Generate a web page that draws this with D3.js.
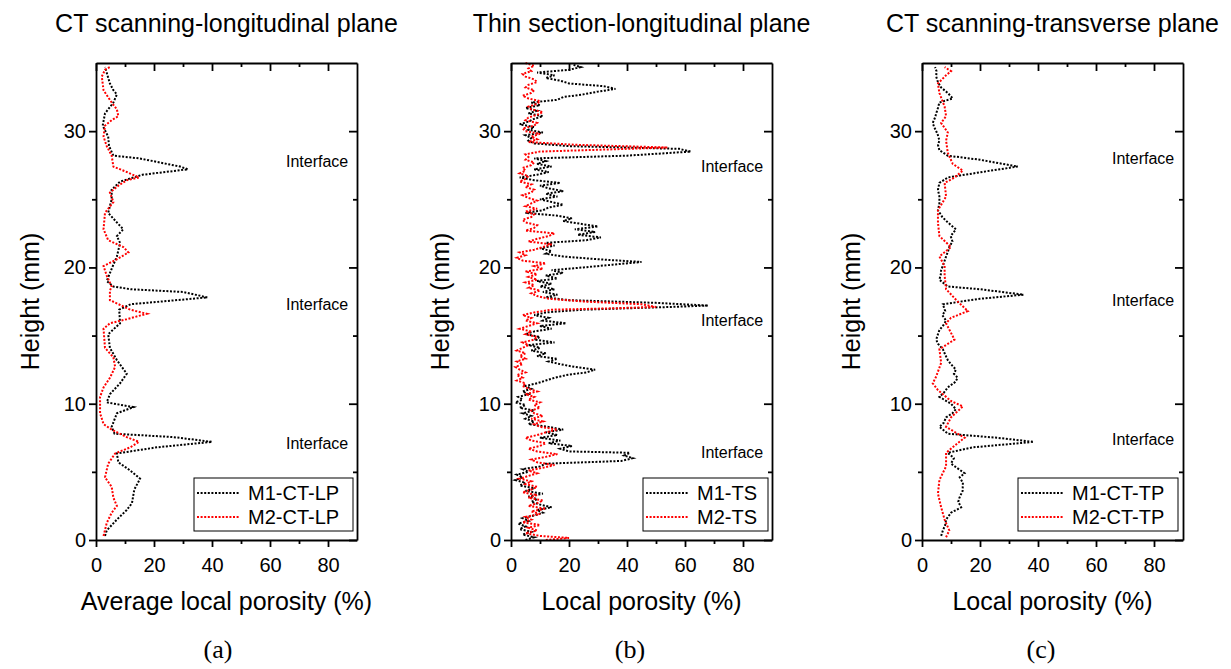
<!DOCTYPE html>
<html>
<head>
<meta charset="utf-8">
<script src="https://cdn.jsdelivr.net/npm/d3@7"></script>
<style>
  html, body { margin: 0; padding: 0; background: #fff; }
  svg { display: block; font-family: Arial, "Liberation Sans", sans-serif; }
</style>
</head>
<body>
<svg id="chart" width="1231" height="669"></svg>
<script>
// ---------------- DATA ----------------
const panelTitles = ["CT scanning-longitudinal plane", "Thin section-longitudinal plane", "CT scanning-transverse plane"];
const xTitles = ["Average local porosity (%)", "Local porosity (%)", "Local porosity (%)"];
const panelLetters = ["(a)", "(b)", "(c)"];
const yTitle = "Height (mm)";
const xTicks = [0, 20, 40, 60, 80];
const xMinor = [10, 30, 50, 70];
const yTicks = [0, 10, 20, 30];
const yMinor = [5, 15, 25];
const legendNames = [["M1-CT-LP", "M2-CT-LP"], ["M1-TS", "M2-TS"], ["M1-CT-TP", "M2-CT-TP"]];
const interfaceLabel = "Interface";
// heights (mm) of the "Interface" annotations per panel
const interfaceHeights = [[27.8, 17.3, 7.1], [27.4, 16.1, 6.4], [28.0, 17.6, 7.4]];

// [height (mm), porosity (%)]
const a_M1 = [[0.3,3.1],[0.7,3.7],[1.5,7.2],[2.2,10.6],[2.7,12.4],[3.7,13.2],[4.5,15.2],[5.1,11.8],[5.7,7.7],[6.35,7.2],[6.8,21],[7.2,40],[7.55,26.7],[7.8,6.4],[8.3,5.4],[9.3,7.2],[9.75,12.9],[10.1,3.7],[10.7,4.8],[11.5,8.3],[12.2,10.6],[13.2,7.2],[14.1,4.8],[15.1,4.2],[15.9,8.3],[16.9,8],[17.3,12],[17.8,38.4],[18.2,30],[18.4,12],[18.6,6],[19.0,3.7],[19.9,5.4],[20.8,7.2],[21.8,8.3],[22.3,7.2],[22.8,9.4],[23.3,7.2],[24.0,4.2],[25.0,5.4],[25.7,5.4],[26.3,8.3],[26.8,16],[27.2,31.7],[27.4,29],[28.0,15],[28.2,6],[28.9,4.5],[29.6,4.2],[30.4,2.3],[31.3,3.1],[32.1,6],[32.7,7.2],[33.0,6],[33.5,4.8],[34.7,3.1]];
const a_M2 = [[0.3,2.6],[1.25,3.7],[2.0,5.4],[2.5,7.2],[3.1,6],[3.9,5.4],[4.6,3.1],[5.6,4.2],[6.35,6.6],[6.8,11.8],[7.2,14.8],[7.55,10.6],[8.1,5.4],[8.5,2.6],[9.3,1.4],[10.5,1.4],[11.2,2.6],[11.9,4.8],[12.7,6.6],[13.4,6],[14.1,3.1],[15.5,2.6],[15.9,4.8],[16.2,10.6],[16.6,17.5],[16.9,11.8],[17.6,4.8],[18.3,4.8],[18.6,5.4],[19.4,3.7],[20.1,2.6],[20.6,7.2],[21.1,11.2],[21.5,9.4],[22.0,4.2],[22.8,2.6],[24.0,3.1],[24.8,6],[25.5,4.8],[26.0,7.7],[26.4,10.6],[26.6,14.8],[27.0,10.6],[27.4,6],[28.2,5.4],[28.9,3.7],[29.6,2.6],[30.4,3.1],[30.8,5.4],[31.1,7.7],[31.6,7.2],[32.1,5.4],[33.0,2.6],[34.0,2.0],[34.5,3.1],[34.7,4.8]];

const b_M1 = [[0.0,5],[0.2,8],[0.4,4],[0.6,7],[0.8,3],[1.0,5],[1.2,2.5],[1.4,6],[1.6,4],[1.8,8],[2.0,11],[2.2,9],[2.4,14],[2.6,10],[2.8,7],[3.0,9],[3.2,6],[3.4,11],[3.6,5],[3.8,8],[4.0,3],[4.2,5],[4.4,1.5],[4.6,4],[4.8,2],[5.0,6],[5.2,4],[5.4,10],[5.6,12],[5.8,38],[6.0,42],[6.2,39],[6.4,41],[6.5,20],[6.7,17],[6.9,21],[7.1,13],[7.3,17],[7.5,10],[7.7,16],[7.9,12],[8.1,18],[8.3,13],[8.5,6],[8.7,8],[8.9,5],[9.1,7],[9.3,4],[9.5,8],[9.7,3],[9.9,5],[10.1,1.5],[10.3,4],[10.5,2.5],[10.7,6],[10.9,4],[11.1,7],[11.3,5],[11.5,9],[11.7,12],[11.9,15],[12.1,19],[12.3,26],[12.5,29],[12.7,22],[12.9,17],[13.1,13],[13.3,16],[13.5,9],[13.7,12],[13.9,7],[14.1,10],[14.3,6],[14.5,15],[14.7,8],[14.9,10],[15.1,5],[15.3,8],[15.5,14],[15.7,10],[15.9,19],[16.1,11],[16.3,13],[16.5,8],[16.7,12],[16.9,25],[17.1,55],[17.2,68],[17.4,50],[17.6,20],[17.8,12],[18.0,16],[18.2,11],[18.4,15],[18.6,10],[18.8,14],[19.0,9],[19.2,16],[19.4,12],[19.6,18],[19.8,14],[20.0,25],[20.2,35],[20.4,45],[20.6,30],[20.8,18],[21.0,12],[21.2,14],[21.4,10],[21.6,15],[21.8,12],[22.0,26],[22.2,31],[22.4,23],[22.6,29],[22.8,22],[23.0,30],[23.2,24],[23.4,18],[23.6,21],[23.8,16],[24.0,5],[24.2,11],[24.4,13],[24.6,18],[24.8,14],[25.0,10],[25.2,16],[25.4,12],[25.6,18],[25.8,13],[26.0,10],[26.2,17],[26.4,8],[26.6,3],[26.8,9],[27.0,13],[27.2,8],[27.4,14],[27.6,9],[27.8,12],[28.0,8],[28.2,40],[28.5,62],[28.7,58],[28.9,20],[29.1,8],[29.3,6],[29.5,7],[29.7,5],[29.9,11],[30.1,6],[30.3,8],[30.5,3],[30.7,6],[30.9,8],[31.1,11],[31.3,6],[31.5,9],[31.7,5],[31.9,10],[32.1,7],[32.3,16],[32.5,18],[32.7,25],[32.9,30],[33.1,36],[33.3,32],[33.5,20],[33.7,17],[33.9,12],[34.1,15],[34.3,9],[34.5,20],[34.7,24],[34.9,21]];
const b_M2 = [[0.0,12],[0.15,20],[0.3,10],[0.5,5],[0.7,9],[0.9,6],[1.1,10],[1.3,4],[1.5,7],[1.7,5],[1.9,10],[2.1,7],[2.3,12],[2.5,6],[2.7,9],[2.9,11],[3.1,6],[3.3,9],[3.5,4],[3.7,7],[3.9,9],[4.1,5],[4.3,7],[4.5,3],[4.7,6],[4.9,9],[5.1,6],[5.3,11],[5.5,15],[5.7,9],[5.9,7],[6.1,12],[6.3,16],[6.5,9],[6.7,6],[6.9,10],[7.1,12],[7.3,7],[7.5,5],[7.7,9],[7.9,12],[8.1,16],[8.3,10],[8.5,8],[8.7,11],[8.9,7],[9.1,11],[9.3,8],[9.5,7],[9.7,10],[9.9,8],[10.1,10],[10.3,6],[10.5,8],[10.7,5],[10.9,9],[11.1,6],[11.3,4],[11.5,5],[11.7,2],[11.9,4],[12.1,2],[12.3,5],[12.5,3],[12.7,1.5],[12.9,4],[13.1,2],[13.3,5],[13.5,3],[13.7,5],[13.9,2],[14.1,4],[14.3,6],[14.5,4],[14.7,8],[14.9,9],[15.1,5],[15.3,7],[15.5,3],[15.7,6],[15.9,9],[16.1,5],[16.3,7],[16.5,4],[16.7,8],[16.9,14],[17.0,35],[17.1,50],[17.3,45],[17.5,25],[17.7,13],[17.9,9],[18.1,7],[18.3,10],[18.5,6],[18.7,8],[18.9,5],[19.1,9],[19.3,6],[19.5,9],[19.7,5],[19.9,11],[20.1,8],[20.3,12],[20.5,4],[20.7,2],[20.9,5],[21.1,3],[21.3,8],[21.5,11],[21.7,14],[21.9,6],[22.1,9],[22.3,13],[22.5,15],[22.7,5],[22.9,8],[23.1,9],[23.3,5],[23.5,4],[23.7,7],[23.9,8],[24.1,5],[24.3,9],[24.5,5],[24.7,7],[24.9,9],[25.1,6],[25.3,4],[25.5,7],[25.7,8],[25.9,5],[26.1,7],[26.3,3],[26.5,5],[26.7,6],[26.9,3],[27.1,5],[27.3,4],[27.5,7],[27.7,8],[27.9,5],[28.1,6],[28.3,5],[28.5,10],[28.7,40],[28.8,54],[29.0,22],[29.2,6],[29.4,9],[29.6,7],[29.8,10],[30.0,5],[30.2,4],[30.4,8],[30.6,9],[30.8,5],[31.0,6],[31.2,9],[31.4,11],[31.6,7],[31.8,6],[32.0,9],[32.2,10],[32.4,6],[32.6,4],[32.8,7],[33.0,8],[33.2,5],[33.4,6],[33.6,9],[33.8,8],[34.0,5],[34.2,4],[34.4,7],[34.6,6],[34.8,8],[35.0,5]];

const c_M1 = [[0.3,6.6],[0.7,7.2],[1.1,8],[1.5,8.3],[2.0,10],[2.4,13.5],[2.8,12.5],[3.1,12.9],[3.6,14],[4.2,14.1],[4.6,13],[4.9,14.7],[5.3,12],[5.6,10],[6.0,11],[6.4,8.9],[6.8,17.6],[7.2,38.5],[7.5,26],[7.8,8.9],[8.3,6],[8.6,7.5],[9.0,8.3],[9.3,10.5],[9.6,11.7],[10.0,10],[10.5,6],[10.8,7.5],[11.2,8.9],[11.6,11.5],[11.9,12.3],[12.2,11],[12.5,11.7],[12.9,10],[13.2,8.9],[13.6,8],[14.0,7.2],[14.4,5.5],[14.7,4.9],[15.1,5.5],[15.4,6],[15.8,7.5],[16.1,8.3],[16.5,7],[16.8,8],[17.1,7.5],[17.3,7.2],[17.7,20],[18.0,35],[18.4,20],[18.6,8.9],[19.1,6],[19.5,6.5],[19.8,6.6],[20.3,7.5],[20.8,8.3],[21.2,9],[21.5,9.4],[21.9,10.5],[22.3,9.9],[22.8,11.7],[23.3,8.9],[23.7,7],[24.2,5.5],[24.7,6],[25.2,6],[25.7,5.5],[26.2,6],[26.6,8.9],[27.1,23.6],[27.4,33],[27.9,20],[28.2,8.9],[28.6,6],[29.0,5.5],[29.3,6],[29.7,5.5],[30.0,4.9],[30.3,4.2],[30.6,3.7],[31.0,4.5],[31.3,4.9],[31.7,5.5],[32.1,6],[32.4,10.6],[32.8,8.9],[33.2,6.6],[33.6,5.5],[34.0,4.9],[34.4,5],[34.7,4.5]];
const c_M2 = [[0.2,8.3],[0.7,9.4],[1.5,7.8],[2.4,6.6],[3.4,5.5],[4.4,6],[5.4,8.3],[6.4,8.3],[7.1,12.3],[7.5,14.7],[8.3,8.3],[9.0,10],[9.8,14.1],[10.2,10],[11.0,5.5],[11.5,3.7],[12.0,4.9],[13.0,6.6],[14.0,6],[14.7,11.2],[15.2,10],[15.9,8.3],[16.3,10],[16.8,15.8],[17.5,12.3],[18.4,8.3],[19.4,7.8],[20.1,7.8],[20.8,6],[21.5,10],[22.3,6],[23.3,5.5],[24.2,5.5],[25.2,8.3],[26.2,7.8],[26.6,11.2],[27.1,14.1],[27.6,10.6],[28.4,8.9],[29.3,8.3],[29.9,8.9],[30.6,6.6],[31.1,8.3],[31.8,7.8],[32.8,6],[33.5,5.5],[34.1,8.3],[34.4,10],[34.7,7.8]];

const seriesByPanel = [[a_M1, a_M2], [b_M1, b_M2], [c_M1, c_M2]];
const seriesColors = ["#000000", "#ff0000"];

// ---------------- LAYOUT ----------------
const svg = d3.select("#chart");
const plotLefts = [96, 511, 922];
const plotW = 261;
const plotTop = 63, plotBottom = 540;
const yTitleX = [39, 449, 860];
const letterX = [218, 630, 1041];
const legendLefts = [194, 643, 1018];
const legendWidths = [159, 125, 160];

const y = d3.scaleLinear().domain([0, 35]).range([plotBottom, plotTop]);

panelTitles.forEach((title, i) => {
  const L = plotLefts[i], R = L + plotW;
  const x = d3.scaleLinear().domain([0, 90]).range([L, R]);
  const g = svg.append("g");

  const line = d3.line().x(d => x(d[1])).y(d => y(d[0]));
  seriesByPanel[i].forEach((s, k) => {
    g.append("path").datum(s).attr("d", line)
      .attr("fill", "none").attr("stroke", seriesColors[k])
      .attr("stroke-width", 2).attr("stroke-dasharray", "2,1.6");
  });

  const styleAxis = (sel) => {
    sel.selectAll("path.domain").attr("stroke", "#000").attr("stroke-width", 1.8);
    sel.selectAll(".tick line").attr("stroke", "#000").attr("stroke-width", 1.8);
    sel.selectAll(".tick text").attr("font-size", 20).attr("fill", "#000")
      .attr("font-family", "Arial, 'Liberation Sans', sans-serif");
  };

  g.append("g").attr("transform", `translate(0,${plotBottom})`)
    .call(d3.axisBottom(x).tickValues(xTicks).tickSize(7).tickPadding(11).tickSizeOuter(0))
    .call(styleAxis);
  g.append("g").attr("transform", `translate(0,${plotBottom})`)
    .call(d3.axisBottom(x).tickValues(xMinor).tickSize(4).tickFormat("").tickSizeOuter(0))
    .call(styleAxis).call(s => s.select("path.domain").remove());
  g.append("g").attr("transform", `translate(0,${plotTop})`)
    .call(d3.axisBottom(x).tickValues(xTicks).tickSize(8).tickFormat("").tickSizeOuter(0))
    .call(styleAxis);
  g.append("g").attr("transform", `translate(0,${plotTop})`)
    .call(d3.axisBottom(x).tickValues(xMinor).tickSize(4).tickFormat("").tickSizeOuter(0))
    .call(styleAxis).call(s => s.select("path.domain").remove());
  g.append("g").attr("transform", `translate(${L},0)`)
    .call(d3.axisLeft(y).tickValues(yTicks).tickSize(7).tickPadding(3).tickSizeOuter(0))
    .call(styleAxis);
  g.append("g").attr("transform", `translate(${L},0)`)
    .call(d3.axisLeft(y).tickValues(yMinor).tickSize(4).tickFormat("").tickSizeOuter(0))
    .call(styleAxis).call(s => s.select("path.domain").remove());
  g.append("g").attr("transform", `translate(${R},0)`)
    .call(d3.axisLeft(y).tickValues(yTicks).tickSize(8).tickFormat("").tickSizeOuter(0))
    .call(styleAxis);
  g.append("g").attr("transform", `translate(${R},0)`)
    .call(d3.axisLeft(y).tickValues(yMinor).tickSize(4).tickFormat("").tickSizeOuter(0))
    .call(styleAxis).call(s => s.select("path.domain").remove());

  g.append("text").attr("x", (L + R) / 2).attr("y", 32).attr("text-anchor", "middle")
    .attr("font-size", 25).attr("fill", "#000").text(title);
  g.append("text").attr("x", (L + R) / 2).attr("y", 610).attr("text-anchor", "middle")
    .attr("font-size", 25).attr("fill", "#000").text(xTitles[i]);
  g.append("text").attr("transform", `translate(${yTitleX[i]},${(plotTop + plotBottom) / 2}) rotate(-90)`)
    .attr("text-anchor", "middle").attr("font-size", 25).attr("fill", "#000").text(yTitle);
  g.append("text").attr("x", letterX[i]).attr("y", 658).attr("text-anchor", "middle")
    .attr("font-family", "'Liberation Serif', 'Times New Roman', serif")
    .attr("font-size", 26).attr("fill", "#000").text(panelLetters[i]);

  interfaceHeights[i].forEach(h => {
    g.append("text").attr("x", x(65.5)).attr("y", y(h)).attr("dy", "0.35em")
      .attr("font-size", 16).attr("fill", "#000").text(interfaceLabel);
  });

  const lx = legendLefts[i], ly = 478;
  g.append("rect").attr("x", lx).attr("y", ly).attr("width", legendWidths[i]).attr("height", 53)
    .attr("fill", "#fff").attr("stroke", "#000").attr("stroke-width", 1);
  legendNames[i].forEach((name, k) => {
    const yy = ly + 15 + k * 24;
    g.append("line").attr("x1", lx + 3).attr("x2", lx + 45).attr("y1", yy).attr("y2", yy)
      .attr("stroke", seriesColors[k]).attr("stroke-width", 2).attr("stroke-dasharray", "2,1.6");
    g.append("text").attr("x", lx + 54).attr("y", yy).attr("dy", "0.35em")
      .attr("font-size", 20).attr("fill", "#000").text(name);
  });
});
</script>
</body>
</html>
